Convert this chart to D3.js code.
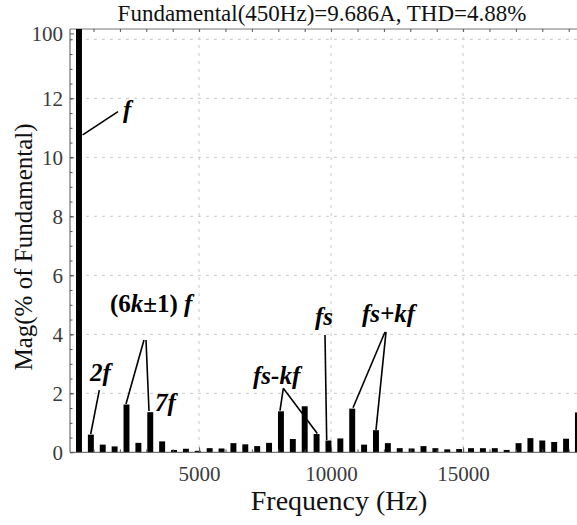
<!DOCTYPE html>
<html>
<head>
<meta charset="utf-8">
<script src="https://cdn.jsdelivr.net/npm/d3@7"></script>
</head>
<body style="margin:0">
<div id="vis"></div>
<script>
const WIDTH = 577;
const HEIGHT = 525;
const SERIF = "'Liberation Serif'";

// harmonic orders of the 450 Hz fundamental and their magnitudes (% of fundamental)
const FUNDAMENTAL_HZ = 450;
const ORDERS = [1, 2, 3, 4, 5, 6, 7, 8, 9, 10, 11, 12, 13, 14, 15, 16, 17, 18, 19, 20, 21, 22,
  23, 24, 25, 26, 27, 28, 29, 30, 31, 32, 33, 34, 35, 36, 37, 38, 39, 40, 41, 42, 43];
const MAGS = [100, 0.60, 0.26, 0.20, 1.62, 0.32, 1.36, 0.37, 0.08, 0.12, 0.05, 0.14, 0.13, 0.31,
  0.27, 0.21, 0.32, 1.39, 0.45, 1.56, 0.62, 0.40, 0.47, 1.48, 0.26, 0.75, 0.31, 0.14,
  0.13, 0.21, 0.14, 0.10, 0.11, 0.14, 0.14, 0.14, 0.08, 0.31, 0.48, 0.40, 0.35, 0.46, 1.35];

const X_TICKS = [5000, 10000, 15000];
const Y_TICKS = [0, 2, 4, 6, 8, 10, 12, 14.2];
const Y_TICK_LABELS = ["0", "2", "4", "6", "8", "10", "12", "100"];
const Y_GRID = [2, 4, 6, 8, 10, 12, 14];

// annotation texts and leader lines, in (Hz, %) units
const NOTE_TEXT = [
  {t: "f", f: 2118, v: 11.33},
  {t: "2f", f: 867, v: 2.42},
  {t: "7f", f: 3330, v: 1.40},
  {t: "fs-kf", f: 7042, v: 2.32},
  {t: "fs", f: 9390, v: 4.32},
  {t: "fs+kf", f: 11170, v: 4.42}
];
const NOTE_LINES = [
  [[591, 10.76], [1928, 11.55]],
  [[1220, 2.11], [894, 0.62]],
  [[2913, 3.81], [2231, 1.64]],
  [[2989, 3.81], [3102, 1.40]],
  [[8190, 2.17], [8064, 1.41]],
  [[8190, 2.17], [9477, 0.64]],
  [[9769, 3.98], [9833, 0.42]],
  [[12042, 4.08], [10830, 1.51]],
  [[12080, 4.08], [11701, 0.76]]
];

const LEFT = 70, TOP = 29, BOTTOM = 452.3;

const X_SCALE = d3.scaleLinear().domain([110, 20000]).range([LEFT, 595.1]);
const Y_SCALE = d3.scaleLinear().domain([0, 14.35]).range([BOTTOM, TOP]).clamp(true);

const svg = d3.select("#vis").append("svg")
  .attr("width", WIDTH)
  .attr("height", HEIGHT)
  .style("display", "block");

// grid
const grid = svg.append("g")
  .attr("stroke", "#c8c8c8")
  .attr("stroke-dasharray", "3,5");
grid.selectAll(".gy").data(Y_GRID).enter().append("line")
  .attr("x1", LEFT).attr("x2", WIDTH)
  .attr("y1", d => Y_SCALE(d)).attr("y2", d => Y_SCALE(d));
grid.selectAll(".gx").data(X_TICKS).enter().append("line")
  .attr("x1", d => X_SCALE(d)).attr("x2", d => X_SCALE(d))
  .attr("y1", TOP).attr("y2", BOTTOM);

// top frame line with small ticks
svg.append("line")
  .attr("x1", LEFT).attr("x2", WIDTH)
  .attr("y1", TOP).attr("y2", TOP)
  .attr("stroke", "#777");
svg.append("g").attr("class", "axis")
  .attr("transform", "translate(0," + TOP + ")")
  .call(d3.axisTop(X_SCALE).tickValues(d3.range(1000, 20000, 1000)).tickSize(-3).tickFormat(""))
  .call(g => g.select(".domain").remove());

// bars
const bw = X_SCALE(FUNDAMENTAL_HZ / 2) - X_SCALE(0);
svg.selectAll(".bar").data(ORDERS).enter().append("rect")
  .attr("x", (d) => X_SCALE(d * FUNDAMENTAL_HZ) - bw / 2)
  .attr("width", bw)
  .attr("y", (d, i) => Y_SCALE(MAGS[i]))
  .attr("height", (d, i) => BOTTOM - Y_SCALE(MAGS[i]))
  .attr("fill", "#000");

// x axis
svg.append("g").attr("class", "axis")
  .attr("transform", "translate(0," + BOTTOM + ")")
  .call(d3.axisBottom(X_SCALE).tickValues(d3.range(1000, 20000, 1000)).tickSize(-3).tickFormat(""))
  .call(g => g.select(".domain").remove());
svg.append("g").attr("class", "axis")
  .attr("transform", "translate(0," + BOTTOM + ")")
  .call(d3.axisBottom(X_SCALE).tickValues(X_TICKS).tickSize(-5).tickPadding(14).tickFormat(d3.format("d")))
  .call(g => g.select(".domain").attr("d", "M" + LEFT + ",0H" + WIDTH));

// y axis
svg.append("g").attr("class", "axis")
  .attr("transform", "translate(" + LEFT + ",0)")
  .call(d3.axisLeft(Y_SCALE).tickValues(d3.range(0.5, 14.3, 0.5)).tickSize(-2.5).tickFormat(""))
  .call(g => g.select(".domain").remove());
svg.append("g").attr("class", "axis")
  .attr("transform", "translate(" + LEFT + ",0)")
  .call(d3.axisLeft(Y_SCALE).tickValues(Y_TICKS).tickSize(-4).tickPadding(7)
    .tickFormat((d, i) => Y_TICK_LABELS[i]))
  .call(g => g.select(".domain").attr("d", "M0," + TOP + "V" + BOTTOM));

svg.selectAll(".axis path, .axis line").attr("stroke", "#555");
svg.selectAll(".axis").attr("font-family", null);
svg.selectAll(".axis text")
  .style("font-family", SERIF)
  .attr("font-size", 21)
  .attr("fill", "#3a3a3a");

// titles
svg.append("text")
  .attr("x", 322).attr("y", 21)
  .attr("text-anchor", "middle")
  .attr("font-size", 23)
  .attr("fill", "#111")
  .style("font-family", SERIF)
  .text("Fundamental(450Hz)=9.686A, THD=4.88%");
svg.append("text")
  .attr("x", 339).attr("y", 510)
  .attr("text-anchor", "middle")
  .attr("font-size", 28)
  .attr("fill", "#111")
  .style("font-family", SERIF)
  .text("Frequency (Hz)");
svg.append("text")
  .attr("transform", "translate(32,247) rotate(-90)")
  .attr("text-anchor", "middle")
  .attr("font-size", 25)
  .attr("fill", "#111")
  .style("font-family", SERIF)
  .text("Mag(% of Fundamental)");

// annotations
svg.selectAll(".lead").data(NOTE_LINES).enter().append("line")
  .attr("x1", d => X_SCALE(d[0][0])).attr("y1", d => Y_SCALE(d[0][1]))
  .attr("x2", d => X_SCALE(d[1][0])).attr("y2", d => Y_SCALE(d[1][1]))
  .attr("stroke", "#000").attr("stroke-width", 1.6);
svg.selectAll(".note").data(NOTE_TEXT).enter().append("text")
  .attr("x", d => X_SCALE(d.f)).attr("y", d => Y_SCALE(d.v))
  .attr("font-size", 25)
  .attr("font-weight", "bold")
  .attr("font-style", "italic")
  .style("font-family", SERIF)
  .text(d => d.t);

const k6 = svg.append("text")
  .attr("font-size", 25)
  .attr("font-weight", "bold")
  .style("font-family", SERIF)
  .attr("x", X_SCALE(1625)).attr("y", Y_SCALE(4.76));
k6.append("tspan").text("(6");
k6.append("tspan").attr("font-style", "italic").text("k");
k6.append("tspan").text("±1) ");
k6.append("tspan").attr("font-style", "italic").text("f");
</script>
</body>
</html>
